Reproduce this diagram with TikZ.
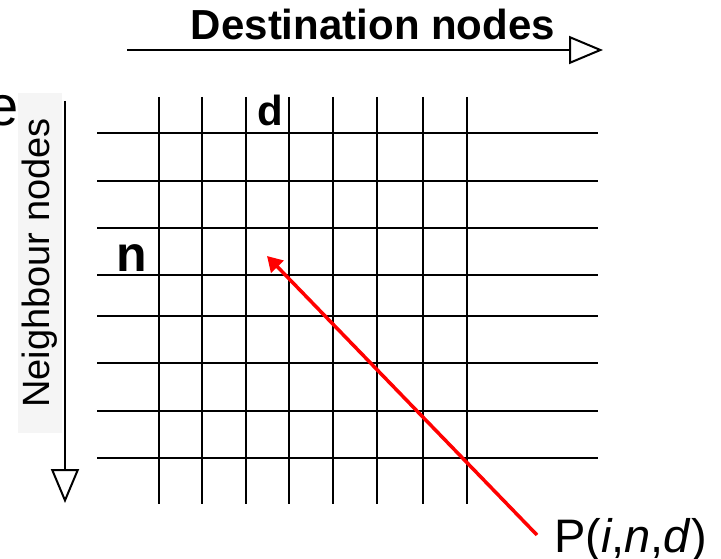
\documentclass[tikz,border=0pt]{standalone}
\usepackage{fontspec}
\setmainfont{Liberation Sans}
\usetikzlibrary{arrows.meta,positioning}
\definecolor{labelgray}{RGB}{245,245,245}
\definecolor{pointred}{RGB}{255,0,0}

\begin{document}
\begin{tikzpicture}[
    x=1pt,
    y=-1pt,
    >=Latex,
    gridline/.style={line width=2pt},
    axisarrow/.style={line width=2pt,-{Triangle[open,length=34pt,width=28pt]}},
    bigbold/.style={font=\fontsize{42}{50}\selectfont\bfseries,inner sep=0pt},
    every node/.style={inner sep=0pt}
]
  \useasboundingbox (0,0) rectangle (721,559);

  \foreach \y in {133,181,228,275,316,363,411,458}
    \draw[gridline] (97,\y) -- (598,\y);
  \foreach \x in {159,202,246,289,333,377,423,467}
    \draw[gridline] (\x,97) -- (\x,504);

  \coordinate (desttail) at (127,50);
  \coordinate (desthead) at (603,50);
  \draw[axisarrow] (desttail) -- (desthead);
  \node[bigbold,anchor=base] (destlabel) at (373,40) {Destination nodes};

  \coordinate (neightail) at (65,101);
  \coordinate (neighhead) at (65,503);
  \node[fill=labelgray,rotate=90,minimum width=340pt,minimum height=44pt,
        font=\fontsize{38}{44}\selectfont] (neighlabel) at (40,263) {Neighbour nodes};
  \draw[axisarrow] (neightail) -- (neighhead);

  \node[font=\fontsize{56}{60}\selectfont,anchor=base east] (cutletter) at (19,126) {e};

  \node[bigbold,anchor=base] (dlabel) at (270,126) {d};
  \node[bigbold,font=\fontsize{50}{56}\selectfont\bfseries,anchor=base] (nlabel) at (132,271) {n};

  \node[font=\fontsize{47}{52}\selectfont,anchor=base west] (pnd) at (554,552)
    {P(\textit{i},\textit{n},\textit{d})};
  \coordinate (ptail) at (537,535);
  \coordinate (pcell) at (267,256);
  \draw[pointred,line width=3.5pt,-{Triangle[length=15pt,width=17pt]}] (ptail) -- (pcell);
\end{tikzpicture}
\end{document}
